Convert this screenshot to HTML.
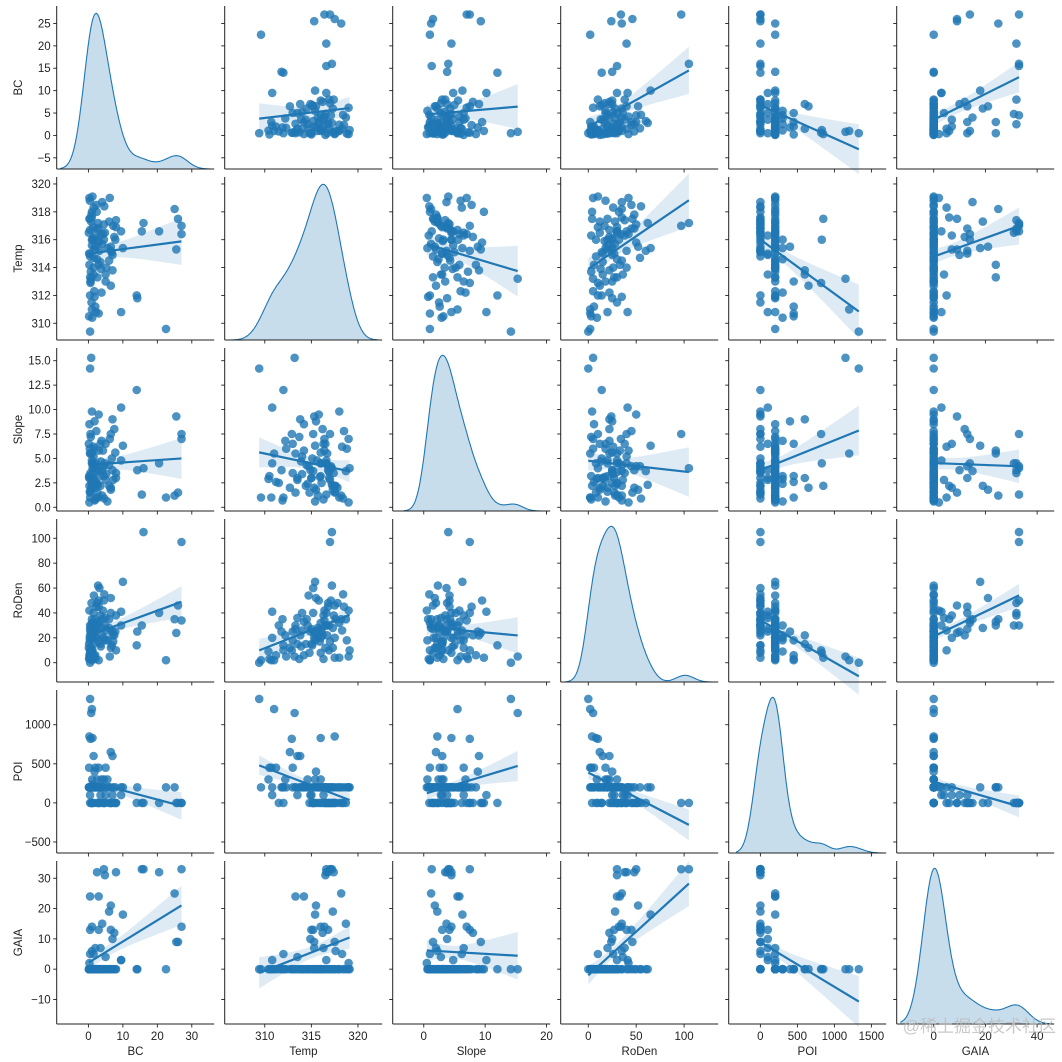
<!DOCTYPE html>
<html><head><meta charset="utf-8"><style>
html,body{margin:0;padding:0;background:#fff;}
svg{display:block;font-family:"Liberation Sans","DejaVu Sans","Noto Sans CJK SC",sans-serif;}
</style></head><body>
<svg id="chart" width="1062" height="1062" viewBox="0 0 1062 1062" xmlns="http://www.w3.org/2000/svg"></svg>
<script>
const variables = ["BC","Temp","Slope","RoDen","POI","GAIA"];
const xDomains = [[-9.2,36.5],[305.7,322.6],[-5.06,20.6],[-28.8,135.6],[-428,1700],[-14.3,46.6]];
const yDomains = [[-7.5,28.9],[308.8,320.5],[-0.38,16.3],[-15.5,115.5],[-641,1444],[-18.1,35.7]];
const xTicks = [[0,10,20,30],[310,315,320],[0,10,20],[0,50,100],[0,500,1000,1500],[0,20,40]];
const yTicks = [[-5,0,5,10,15,20,25],[310,312,314,316,318,320],[0,2.5,5,7.5,10,12.5,15],[0,20,40,60,80,100],[-500,0,500,1000],[-10,0,10,20,30]];
const yTickLabels = [["−5","0","5","10","15","20","25"],["310","312","314","316","318","320"],["0.0","2.5","5.0","7.5","10.0","12.5","15.0"],["0","20","40","60","80","100"],["−500","0","500","1000"],["−10","0","10","20","30"]];
const xTickLabels = [["0","10","20","30"],["310","315","320"],["0","10","20"],["0","50","100"],["0","500","1000","1500"],["0","20","40"]];
// rows: BC, Temp, Slope, RoDen, POI, GAIA
const rows = [
[16,317.2,4.0,105,0,33],[15.5,316.6,1.3,30,0,33],[20.5,316.6,4.5,40,0,32],[27,317.0,7.5,97,0,33],
[25,318.2,1.2,35,200,25],[26,317.5,1.5,46,0,9],[25.5,315.3,9.3,24,0,9],[27,316.4,7.0,34,0,14],
[22.5,309.6,1.0,2,200,0],[14,312.0,12.0,14,0,0],[14.2,311.8,3.8,25,200,0],[10,315.4,6.3,65,200,18],[9.5,310.8,10.2,41,100,3],
[0.5,309.4,14.2,0,1330,0],[1,311.0,5.5,2,1200,0],[0.8,313.2,15.3,5,1150,0],[0.3,317.5,2.2,4,850,0],
[1.2,316.0,4.5,8,830,0],[0.6,312.9,7.5,10,820,0],[1.5,313.5,3.0,15,600,0],[6.5,312.7,2.0,12,650,0],
[7,313.8,9.0,22,600,0],[0.2,310.5,3.2,3,450,0],[2,311.2,2.6,6,450,0],[3,310.7,1.0,2,450,0],
[5,313.0,6.5,18,450,0],[1.8,315.5,8.8,25,400,0],[2.5,314.6,2.4,30,300,0],
[2.5,316.8,3.8,48,0,32],[4.5,317.1,4.2,50,0,33],[4.8,316.5,4.5,30,0,31],[8,317.4,3.5,38,0,32],
[0.5,313.3,5.5,30,200,24],[3,314.2,5.8,33,200,24],[6.5,315.5,1.8,52,0,21],[6,317.3,2.2,28,0,19],
[4,318.7,3.7,35,0,15],[1,316.0,4.5,32,0,14],[0.5,315.0,3.0,27,100,13],[3,316.8,4.2,45,0,13],
[6.5,315.2,7.5,40,0,13],[7.5,316.2,8.0,22,0,12],[7,314.9,3.8,25,100,10],[1.5,318.3,6.2,26,0,5],
[2,315.3,2.0,20,200,7],[1,317.6,2.2,35,0,6],[3.5,316.3,6.5,38,100,7],[0.5,312.0,1.0,10,200,5],
[5,313.5,2.8,36,100,4],[0.3,319.0,0.5,42,200,2],[9.5,316.6,4.8,30,200,3],
[0.2,315.0,3.0,15,200,0],[0.5,314.8,1.5,8,0,0],[1,315.6,4.8,20,200,0],[1.3,316.1,2.5,25,200,0],
[0.8,317.3,1.8,12,200,0],[2,316.3,0.8,3,200,0],[1.5,314.0,5.2,40,200,0],[0.4,318.8,6.0,18,200,0],
[2.3,318.5,7.8,45,200,0],[3,315.8,9.5,50,0,0],[1.2,319.1,4.0,10,200,0],[0.6,313.0,3.5,25,200,0],
[0.9,311.5,2.5,30,0,0],[1.7,312.3,6.0,5,200,0],[2.2,310.8,4.5,20,200,0],[0.5,316.7,5.5,22,200,0],
[3.5,314.4,2.2,15,200,0],[4,315.7,1.2,28,200,0],[4.5,316.0,3.2,20,300,0],[5.5,315.4,0.6,18,300,0],
[6,314.5,4.3,35,200,0],[6.8,315.1,5.0,14,0,0],[7.2,317.0,2.8,17,200,0],[8,316.9,3.0,10,0,0],
[0.3,314.2,8.5,6,200,0],[0.7,313.7,7.2,3,200,0],[1,318.0,9.8,4,0,0],[1.8,311.9,0.7,35,200,0],
[2.6,313.3,1.5,27,200,0],[3.2,315.2,3.7,60,0,0],[2.8,317.2,2.3,62,200,0],[1.6,314.7,4.2,54,200,0],
[4.2,316.4,5.8,42,200,0],[3.8,312.2,6.8,22,300,0],[2.4,318.0,1.0,32,200,0],[5.2,314.0,3.4,26,200,0],
[0.1,316.5,6.5,12,200,0],[1.1,310.4,2.9,9,300,0],[0.9,317.8,2.0,48,200,0],[4.6,318.4,0.9,55,0,0],
[2.9,315.9,3.1,17,200,0],[3.6,313.9,4.7,13,200,0],[6.2,319.0,7.0,5,200,0],[7.8,316.0,5.6,25,200,0],
[0.4,317.5,1.6,20,200,0],[1.4,316.9,3.6,30,200,0]
];

const NS="http://www.w3.org/2000/svg";
const svg=document.getElementById('chart');
const C="#1f77b4";
const L0=56.7, PX=168, PW=157.5, T0=6, PY=171, PH=163;
function mk(tag,attrs,parent){const e=document.createElementNS(NS,tag);for(const k in attrs)e.setAttribute(k,attrs[k]);(parent||svg).appendChild(e);return e;}
function col(j){return rows.map(r=>r[j]);}
function mean(a){return a.reduce((s,v)=>s+v,0)/a.length;}
function sd(a){const m=mean(a);return Math.sqrt(a.reduce((s,v)=>s+(v-m)*(v-m),0)/(a.length-1));}

for(let i=0;i<6;i++){for(let j=0;j<6;j++){
  const left=L0+j*PX, top=T0+i*PY;
  const xd=xDomains[j], yd=yDomains[i];
  const sx=v=>left+(v-xd[0])/(xd[1]-xd[0])*PW;
  const sy=v=>top+PH-(v-yd[0])/(yd[1]-yd[0])*PH;
  const g=mk('g',{});
  
  
  const xs=col(j), ys=col(i);
  if(i===j){
    const n=xs.length, bw=1.06*sd(xs)*Math.pow(n,-0.2);
    const lo=Math.min(...xs)-3*bw, hi=Math.max(...xs)+3*bw;
    const pts=[];let mx=0;
    for(let k=0;k<=200;k++){const x=lo+(hi-lo)*k/200;let d=0;for(const v of xs){const z=(x-v)/bw;d+=Math.exp(-0.5*z*z);}pts.push([x,d]);if(d>mx)mx=d;}
    const base=top+PH, hgt=PH*0.955;
    let dp='M'+sx(lo).toFixed(1)+','+base;
    let lp='';
    pts.forEach((p,k)=>{const X=sx(p[0]).toFixed(1),Y=(base-p[1]/mx*hgt).toFixed(1);dp+='L'+X+','+Y;lp+=(k?'L':'M')+X+','+Y;});
    dp+='L'+sx(hi).toFixed(1)+','+base+'Z';
    const f=mk('path',{d:dp,fill:C,'fill-opacity':0.25,stroke:'none'},g);
    
    
    const ln=mk('path',{d:lp,fill:'none',stroke:C,'stroke-width':1.1},g);
    
    
  } else {
    const n=xs.length,mxv=mean(xs),myv=mean(ys);
    let sxx=0,sxy=0;for(let k=0;k<n;k++){sxx+=(xs[k]-mxv)**2;sxy+=(xs[k]-mxv)*(ys[k]-myv);}
    const b=sxy/sxx,a=myv-b*mxv;
    let sse=0;for(let k=0;k<n;k++){sse+=(ys[k]-a-b*xs[k])**2;}
    const s=Math.sqrt(sse/(n-2));
    const x0=Math.min(...xs),x1=Math.max(...xs);
    let up='',dn=[];
    for(let k=0;k<=60;k++){const x=x0+(x1-x0)*k/60;const yh=a+b*x;const e=1.98*s*Math.sqrt(1/n+(x-mxv)**2/sxx);
      up+=(k?'L':'M')+sx(x).toFixed(1)+','+sy(yh+e).toFixed(1);dn.push(sx(x).toFixed(1)+','+sy(yh-e).toFixed(1));}
    const band=mk('path',{d:up+'L'+dn.reverse().join('L')+'Z',fill:C,'fill-opacity':0.15},g);
    
    
    for(let k=0;k<n;k++){
      const c=mk('circle',{cx:sx(xs[k]).toFixed(1),cy:sy(ys[k]).toFixed(1),r:4.3,fill:C,'fill-opacity':0.8},g);
      
      
    }
    const rl=mk('line',{x1:sx(x0),y1:sy(a+b*x0),x2:sx(x1),y2:sy(a+b*x1),stroke:C,'stroke-width':2.2},g);
    
    
  }
  mk('line',{x1:left,y1:top,x2:left,y2:top+PH,stroke:'#222','stroke-width':1},g);
  mk('line',{x1:left,y1:top+PH,x2:left+PW,y2:top+PH,stroke:'#222','stroke-width':1},g);
  xTicks[j].forEach((t,k)=>{const X=sx(t);mk('line',{x1:X,y1:top+PH,x2:X,y2:top+PH+3.5,stroke:'#222','stroke-width':0.9},g);
    if(i===5){const tx=mk('text',{x:X,y:top+PH+16,'text-anchor':'middle','font-size':11.5,fill:'#222'},g);tx.textContent=xTickLabels[j][k];
      
      }});
  yTicks[i].forEach((t,k)=>{const Y=sy(t);mk('line',{x1:left-3.5,y1:Y,x2:left,y2:Y,stroke:'#222','stroke-width':0.9},g);
    if(j===0){const tx=mk('text',{x:left-6,y:Y+4,'text-anchor':'end','font-size':11.5,fill:'#222'},g);tx.textContent=yTickLabels[i][k];
      
      }});
  if(i===5){const lb=mk('text',{x:left+PW/2,y:1055,'text-anchor':'middle','font-size':11.5,fill:'#222'},g);lb.textContent=variables[j];
    
    }
  if(j===0){const cy=top+PH/2;const lb=mk('text',{x:22,y:cy,'text-anchor':'middle','font-size':11.5,fill:'#222',transform:'rotate(-90 22 '+cy+')'},g);lb.textContent=variables[i];
    
    }
}}
const wm=mk('text',{x:1056,y:1032,'text-anchor':'end','font-size':17,fill:'#bbb','fill-opacity':0.8});
wm.textContent='@稀土掘金技术社区';


</script>
</body></html>
